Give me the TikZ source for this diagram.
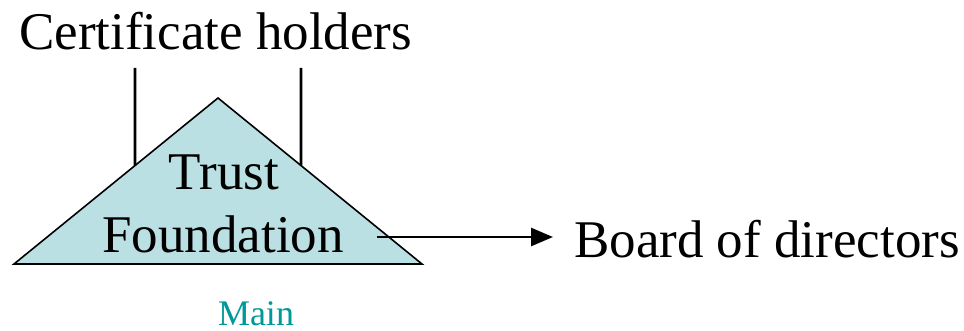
\documentclass[tikz,border=0pt]{standalone}
\usepackage{fontspec}
\setmainfont{Liberation Serif}
\usetikzlibrary{arrows.meta,calc}
\definecolor{trustfill}{RGB}{187,224,227}
\definecolor{mainteal}{RGB}{0,153,153}

\begin{document}
\begin{tikzpicture}[x=1pt, y=-1pt,
  bigtext/.style={inner sep=0pt, font=\fontsize{53}{64}\selectfont},
  wire/.style={line width=2.6pt}]
 \useasboundingbox (0,0) rectangle (964,331);

 \coordinate (L) at (14,264);
 \coordinate (R) at (422,264);
 \coordinate (T) at (218,98);
 \filldraw[fill=trustfill, line width=1.6pt, line join=miter] (L) -- (T) -- (R) -- cycle;

 \node[bigtext, anchor=base west] (holders) at (19,50) {Certificate holders};
 \node[bigtext, anchor=base] (trust) at (224,190) {Trust};
 \node[bigtext, anchor=base] (found) at (223,253) {Foundation};
 \node[bigtext, anchor=base west] (board) at (574,258) {Board of directors};
 \node[inner sep=0pt, anchor=base, text=mainteal, font=\fontsize{36}{40}\selectfont] (main) at (256,325) {Main};

 \coordinate (h1) at (135,68);
 \coordinate (h2) at (301,68);
 \draw[wire] (h1) -- ($(L)!0.593!(T)$);
 \draw[wire] (h2) -- ($(R)!0.593!(T)$);

 \coordinate (a0) at (377,237);
 \coordinate (a1) at (553,237);
 \draw[wire, -{Triangle[length=22pt, width=18pt]}] (a0) -- (a1);
\end{tikzpicture}
\end{document}
